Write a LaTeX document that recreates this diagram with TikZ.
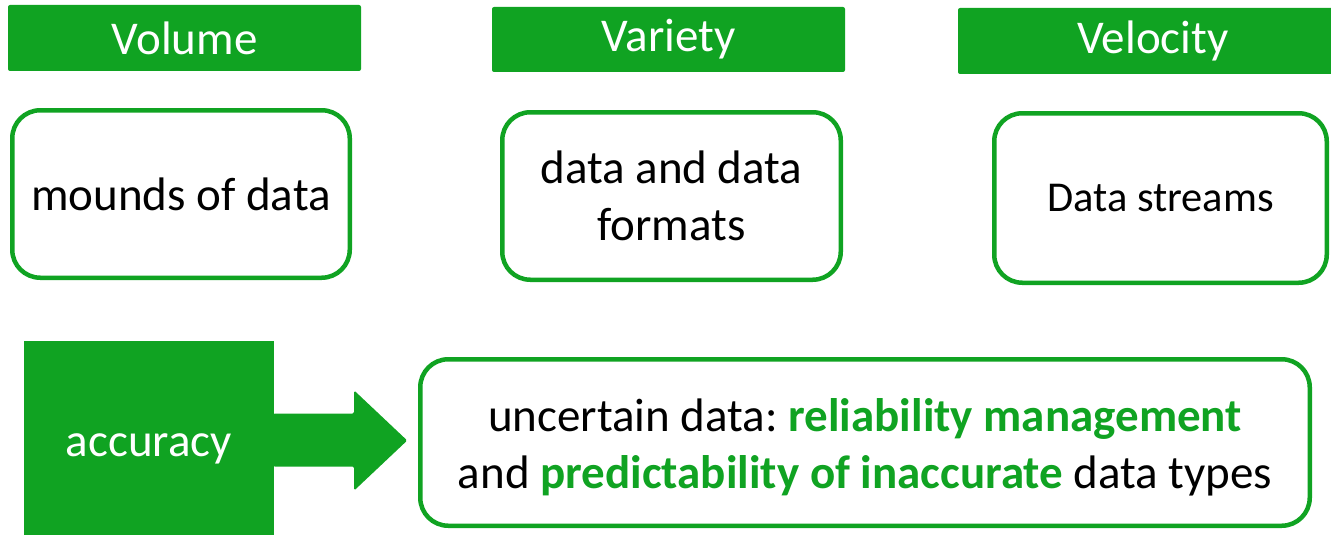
\documentclass[tikz,border=0pt]{standalone}
\usepackage{fontspec}
\setmainfont{Carlito}
\frenchspacing
\definecolor{gr}{RGB}{16,163,34}
\tikzset{
  hdr/.style={fill=gr, draw=none, rounded corners=2pt, text=white, inner sep=0pt,
    font=\fontsize{47}{57}\selectfont},
  gbox/.style={draw=gr, line width=4.5pt, rounded corners=28pt, fill=white, inner sep=0pt,
    align=center, font=\fontsize{47}{57.3}\selectfont},
  accbox/.style={fill=gr, draw=none, text=white, inner sep=0pt,
    font=\fontsize{47}{57}\selectfont}
}
\begin{document}
\begin{tikzpicture}[x=1pt,y=-1pt]
\useasboundingbox (0,0) rectangle (1331,535);
\clip (0,0) rectangle (1331,535);
% headers
\node[hdr, minimum width=353pt, minimum height=66pt] (h1) at (184.5,38) {Volume};
\node[hdr, minimum width=353pt, minimum height=65pt] (h2) at (668.5,39.5) {Variety};
\node[hdr, minimum width=390pt, minimum height=66pt] (h3) at (1153,41) {Velocity};
% boxes
\node[gbox, minimum width=337.5pt, minimum height=167.5pt] (b1) at (181,194) {mounds of data};
\node[gbox, minimum width=338.5pt, minimum height=167.5pt] (b2) at (671.5,196) {data and data\\formats};
\node[gbox, minimum width=332.5pt, minimum height=169.5pt, font=\fontsize{42.5}{52}\selectfont] (b3) at (1160.5,198) {Data streams};
% accuracy
\node[accbox, minimum width=250pt, minimum height=199pt, text height=40pt, text depth=9pt] (acc) at (149,440.5) {accuracy};
\fill[gr, rounded corners=1.5pt] (acc.east) ++(-1,-27) -- ++(81,0) -- ++(0,-23) -- ++(53,50) -- ++(-53,50) -- ++(0,-24) -- ++(-81,0) -- cycle;
\node[gbox, minimum width=889.5pt, minimum height=166.5pt,
  label={[font=\fontsize{47}{57.3}\selectfont, align=center, yshift=-5pt]center:{uncertain data: \textbf{\color{gr}reliability management}\\and \textbf{\color{gr}predictability of inaccurate} data types}}] (unc) at (865,442.5) {};
\end{tikzpicture}
\end{document}
